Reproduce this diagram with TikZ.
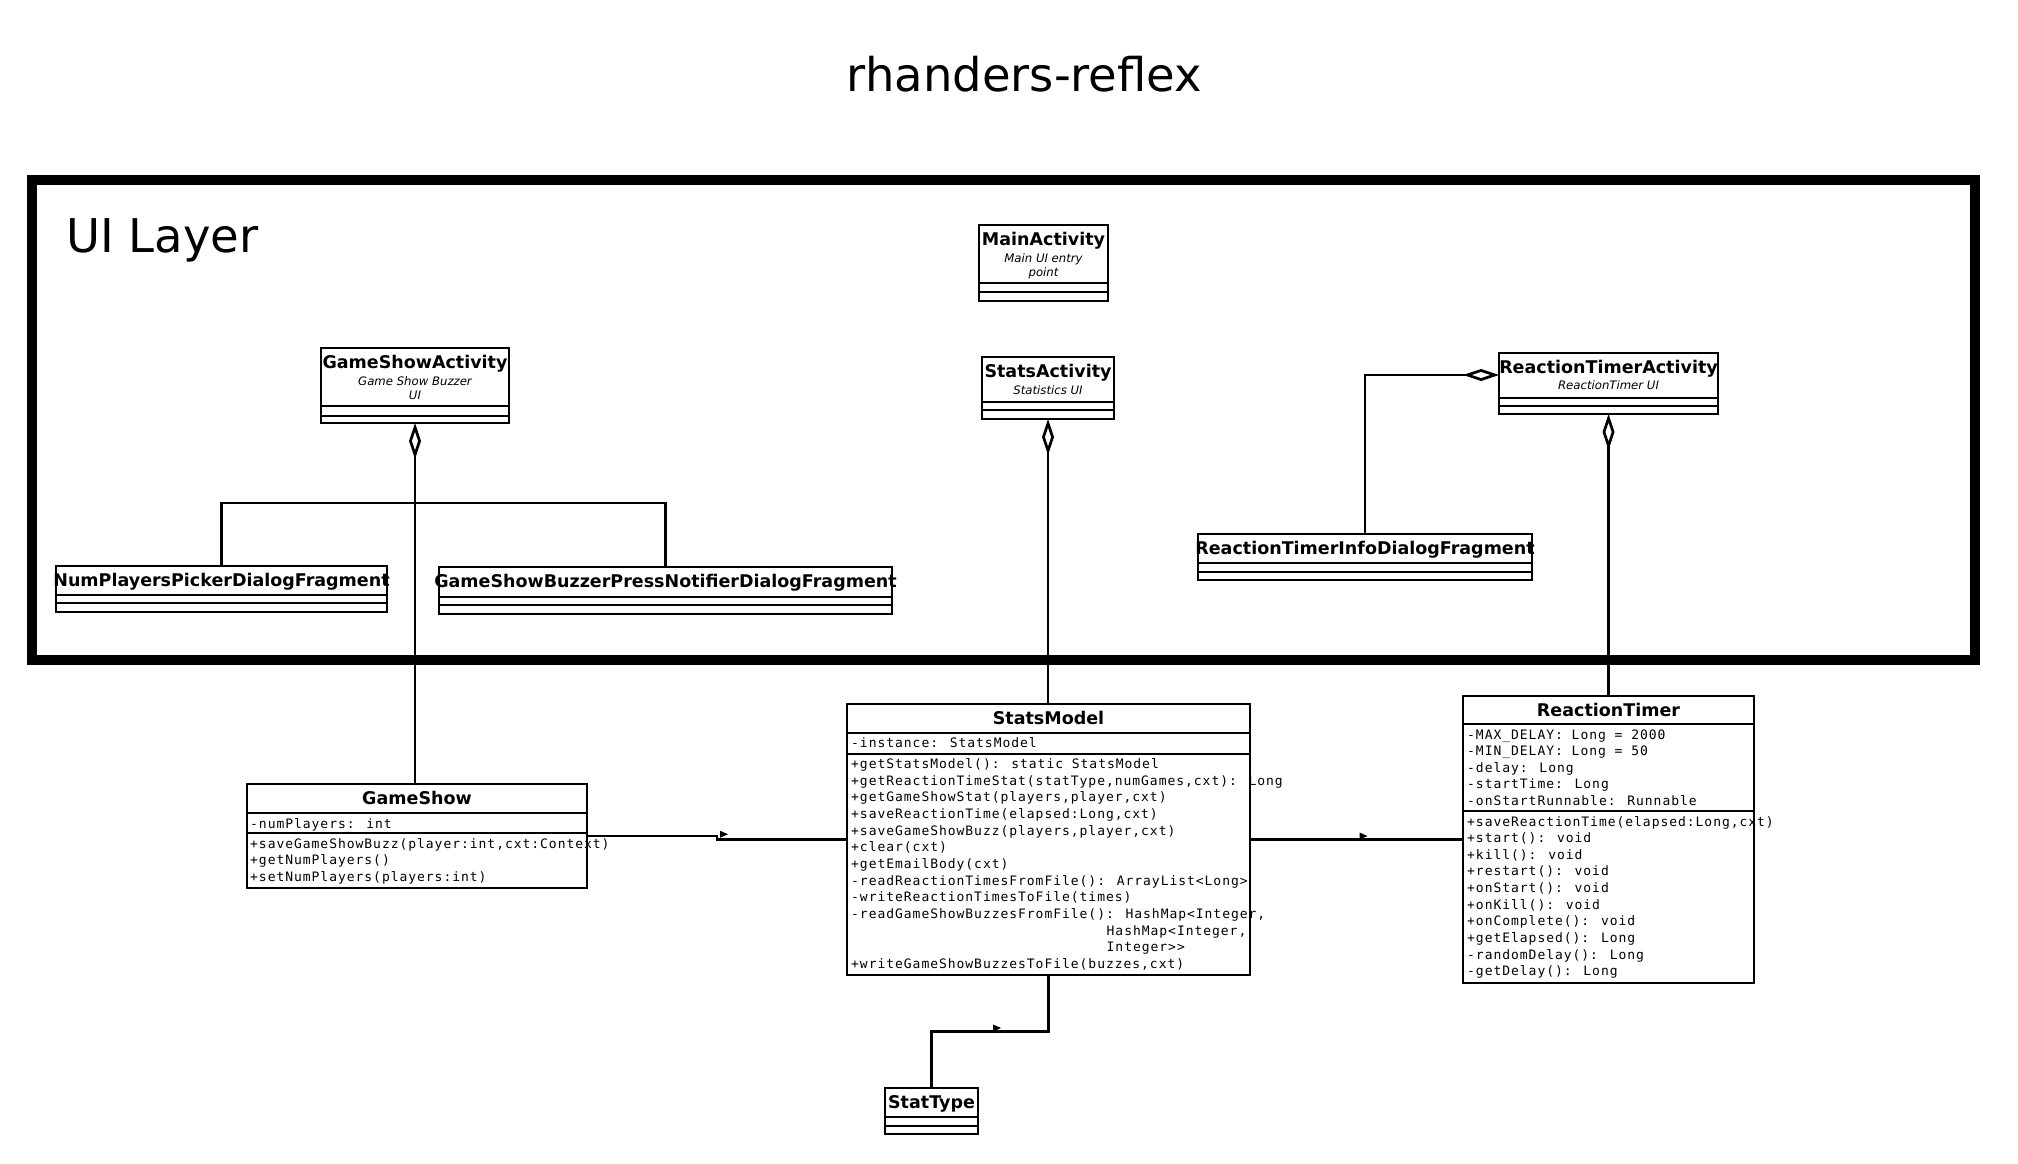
\documentclass[tikz,border=0pt]{standalone}
\usepackage{fontspec}
\setmainfont{DejaVu Sans}
\newfontfamily\umlmono[LetterSpace=7.4]{DejaVu Sans Mono}
\usetikzlibrary{arrows.meta,calc}

\begin{document}
\begin{tikzpicture}[x=1pt, y=-1pt,
    classbox/.style={draw, line width=2.8pt, inner sep=0pt, outer sep=0pt, anchor=north west},
    sepline/.style={line width=2.8pt},
    classname/.style={anchor=base, inner sep=0pt, font=\fontsize{17.5}{20}\selectfont\bfseries},
    classnote/.style={anchor=base, inner sep=0pt, font=\fontsize{11.7}{14}\selectfont\itshape},
    member/.style={anchor=base west, inner sep=0pt, font=\fontsize{13}{16}\umlmono},
    link/.style={line width=2.7pt},
    agg/.style={link, {Diamond[open, length=36pt, width=12pt]}-}]
    \def\umlclass#1#2#3#4#5#6#7#8{
      \node[classbox, minimum width={#4-#2}, minimum height={#5-#3}] (#1) at (#2,#3) {};
      \draw[sepline] (#1.west |- 0,#6) -- (#1.east |- 0,#6);
      \draw[sepline] (#1.west |- 0,#7) -- (#1.east |- 0,#7);
      \node[classname] (#1-name) at ({(#2+#4)/2},{#3+20}) {#8};
    }
    \def\navmark#1{\fill ($(#1)+(3,0)$) -- ++(0,-7) -- ++(8,3.5) -- cycle;}
    \useasboundingbox (0,0) rectangle (2018,1164);
    \node[anchor=base, inner sep=0pt, font=\fontsize{46.5}{56}\selectfont] (title) at (1024.5,92) {rhanders-reflex};
    \node[classbox, line width=10pt, minimum width=1943, minimum height=480] (uilayer) at (32,180) {};
    \node[anchor=base west, inner sep=0pt, font=\fontsize{46.5}{56}\selectfont] (uilayer-label) at (66,252) {UI Layer};

    \umlclass{ma}{979}{225}{1108}{301}{283}{292}{MainActivity}
    \node[classnote] (ma-note1) at (1043.5,262) {Main UI entry};
    \node[classnote] (ma-note2) at (1043.5,276) {point};
    \umlclass{gsa}{321}{348}{509}{423}{406}{416}{GameShowActivity}
    \node[classnote] (gsa-note1) at (415,385) {Game Show Buzzer};
    \node[classnote] (gsa-note2) at (415,399) {UI};
    \umlclass{sa}{982}{357}{1114}{419}{402}{410}{StatsActivity}
    \node[classnote] (sa-note) at (1048,394) {Statistics UI};
    \umlclass{rta}{1499}{353}{1718}{414}{398}{406}{ReactionTimerActivity}
    \node[classnote] (rta-note) at (1608.5,389) {ReactionTimer UI};
    \umlclass{rtidf}{1198}{534}{1532}{580}{563}{572}{ReactionTimerInfoDialogFragment}
    \umlclass{npp}{56}{566}{387}{612}{595}{603}{NumPlayersPickerDialogFragment}
    \umlclass{gsbpn}{439}{567}{892}{614}{597}{605}{GameShowBuzzerPressNotifierDialogFragment}

    \umlclass{gs}{247}{784}{587}{888}{813}{833}{GameShow}
    \node[member] (gs-attr) at (250,828) {-numPlayers: int};
    \foreach \m [count=\i from 0] in {{+saveGameShowBuzz(player:int,cxt:Context)}, {+getNumPlayers()}, {+setNumPlayers(players:int)}}
      \node[member] (gs-op\i) at (250,{848+16.65*\i}) {\m};

    \umlclass{sm}{847}{704}{1250}{975}{733}{754}{StatsModel}
    \node[member] (sm-attr) at (851,747.5) {-instance: StatsModel};
    \foreach \m [count=\i from 0] in {{+getStatsModel(): static StatsModel}, {+getReactionTimeStat(statType,numGames,cxt): Long},
        {+getGameShowStat(players,player,cxt)}, {+saveReactionTime(elapsed:Long,cxt)}, {+saveGameShowBuzz(players,player,cxt)},
        {+clear(cxt)}, {+getEmailBody(cxt)}, {-readReactionTimesFromFile(): ArrayList<Long>}, {-writeReactionTimesToFile(times)},
        {-readGameShowBuzzesFromFile(): HashMap<Integer,}, {\hspace*{255.5pt}HashMap<Integer,}, {\hspace*{255.5pt}Integer>>},
        {+writeGameShowBuzzesToFile(buzzes,cxt)}}
      \node[member] (sm-op\i) at (851,{768.5+16.65*\i}) {\m};

    \umlclass{rt}{1463}{696}{1754}{983}{724}{811}{ReactionTimer}
    \foreach \m [count=\i from 0] in {{-MAX\_DELAY: Long = 2000}, {-MIN\_DELAY: Long = 50}, {-delay: Long}, {-startTime: Long},
        {-onStartRunnable: Runnable}}
      \node[member] (rt-attr\i) at (1467,{739+16.65*\i}) {\m};
    \foreach \m [count=\i from 0] in {{+saveReactionTime(elapsed:Long,cxt)}, {+start(): void}, {+kill(): void}, {+restart(): void},
        {+onStart(): void}, {+onKill(): void}, {+onComplete(): void}, {+getElapsed(): Long}, {-randomDelay(): Long},
        {-getDelay(): Long}}
      \node[member] (rt-op\i) at (1467,{826+16.65*\i}) {\m};

    \umlclass{st}{885}{1088}{978}{1134}{1117}{1126}{StatType}

    \coordinate (gsaj) at (415,503);
    \draw[agg] (gsa.south) -- (gsa.south |- gs.north);
    \draw[link] (gsaj) -| (npp.north);
    \draw[link] (gsaj) -| (gsbpn.north);
    \draw[agg] (sa.south) -- (sa.south |- sm.north);
    \draw[agg] (rta.south) -- (rt.north);
    \draw[agg] ([yshift=8.5pt]rta.west) -| (rtidf.north);

    \coordinate (m1) at ($(gs.east)!0.5!(sm.west)$);
    \coordinate (m2) at ($(sm.east)!0.5!(rt.west)$);
    \coordinate (m3) at ($(sm.south)!0.5!(st.north)$);
    \draw[link] (gs.east) -| (m1) |- (sm.west);
    \draw[link] (sm.east) -- (rt.west);
    \draw[link] (sm.south) |- (m3) -| (st.north);
    \navmark{m1}
    \navmark{m2}
    \navmark{m3}
  \end{tikzpicture}
\end{document}
